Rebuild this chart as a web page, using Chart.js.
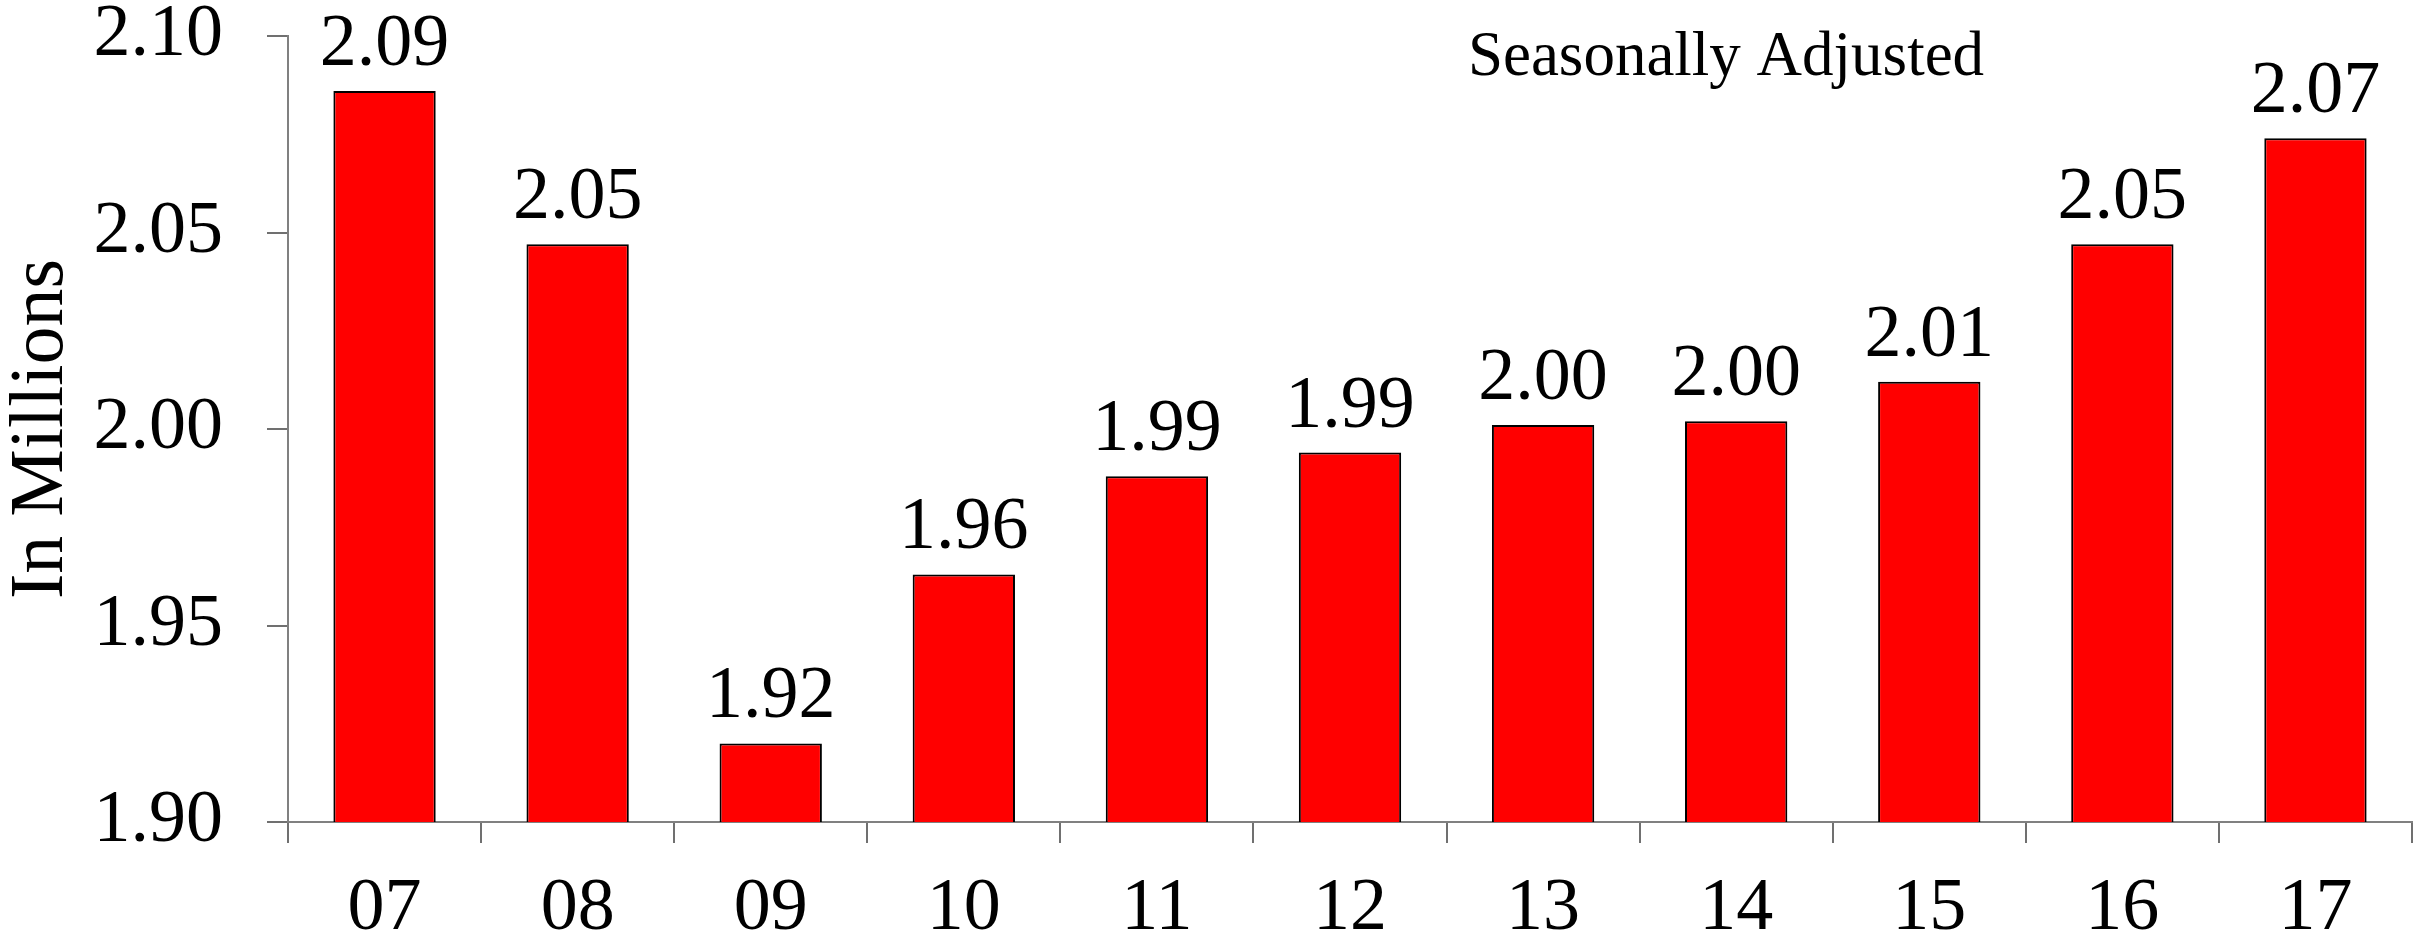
<!DOCTYPE html>
<html>
<head>
<meta charset="utf-8">
<title>Seasonally Adjusted</title>
<script src="https://cdn.jsdelivr.net/npm/chart.js@4.4.0/dist/chart.umd.min.js"></script>
<style>
  html, body { margin: 0; padding: 0; background: #fff; }
  canvas { display: block; }
</style>
</head>
<body>
<canvas id="chart" width="2433" height="952"></canvas>
<script>
// yearly totals, in millions
var years = ['07', '08', '09', '10', '11', '12', '13', '14', '15', '16', '17'];
var totals = [2.086, 2.047, 1.920, 1.963, 1.988, 1.994, 2.001, 2.002, 2.012, 2.047, 2.074];
var yTicks = [1.90, 1.95, 2.00, 2.05, 2.10];

var SERIF = '"Liberation Serif", "Times New Roman", serif';
var AXIS_GREY = '#808080';

// value printed above each bar, plus the note in the corner
var barLabels = {
    id: 'barLabels',
    afterDatasetsDraw: function(chart) {
        var ctx = chart.ctx;
        var meta = chart.getDatasetMeta(0);
        ctx.save();
        ctx.fillStyle = '#000';
        ctx.textAlign = 'center';
        ctx.textBaseline = 'alphabetic';
        ctx.font = '74px ' + SERIF;
        meta.data.forEach(function(bar, i) {
            ctx.fillText(totals[i].toFixed(2), bar.x, bar.y - 26);
        });
        ctx.font = '63px ' + SERIF;
        ctx.fillText('Seasonally Adjusted', 1726, 75);
        ctx.restore();
    }
};

var chart = new Chart(document.getElementById('chart'), {
    type: 'bar',
    data: {
        labels: years,
        datasets: [{
            data: totals,
            backgroundColor: '#ff0000',
            borderColor: '#000',
            borderWidth: 2,
            borderSkipped: false,
            categoryPercentage: 1,
            barPercentage: 0.53
        }]
    },
    options: {
        responsive: false,
        devicePixelRatio: 1,
        animation: false,
        layout: { padding: { top: 36, right: 21, left: 0, bottom: 0 } },
        plugins: {
            legend: { display: false },
            tooltip: { enabled: false }
        },
        scales: {
            x: {
                offset: true,
                grid: {
                    offset: true,
                    drawOnChartArea: false,
                    tickLength: 21,
                    color: '#707070',
                    lineWidth: 2
                },
                border: { color: AXIS_GREY, width: 2 },
                ticks: {
                    color: '#000',
                    padding: 22,
                    maxRotation: 0,
                    font: { family: SERIF, size: 74 }
                },
                afterFit: function(scale) {
                    scale.height = 130;
                    scale.paddingLeft = 0;
                    scale.paddingRight = 0;
                }
            },
            y: {
                min: 1.90,
                max: 2.10,
                grid: {
                    drawOnChartArea: false,
                    tickLength: 21,
                    color: '#707070',
                    lineWidth: 2
                },
                border: { color: AXIS_GREY, width: 2 },
                ticks: {
                    color: '#000',
                    padding: 44,
                    font: { family: SERIF, size: 74 },
                    callback: function(v) { return Number(v).toFixed(2); }
                },
                afterBuildTicks: function(scale) {
                    scale.ticks = yTicks.map(function(v) { return { value: v }; });
                },
                title: {
                    display: true,
                    text: 'In Millions',
                    color: '#000',
                    padding: 0,
                    font: { family: SERIF, size: 76, lineHeight: 1.1 }
                },
                afterFit: function(scale) {
                    scale.width = 288;
                    scale.paddingTop = 0;
                    scale.paddingBottom = 0;
                }
            }
        }
    },
    plugins: [barLabels]
});
</script>
</body>
</html>
